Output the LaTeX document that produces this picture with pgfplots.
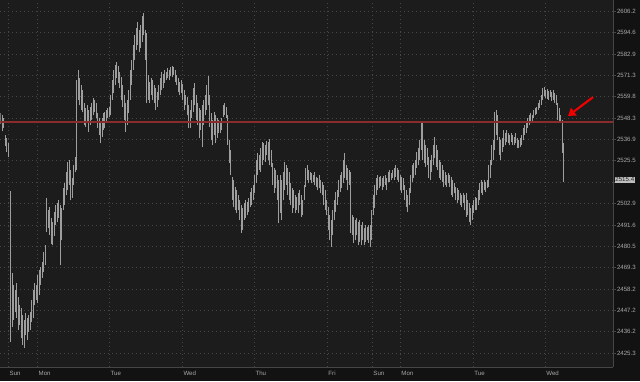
\documentclass[border=0pt]{standalone}
\usepackage{pgfplots}
\pgfplotsset{compat=1.18}
\usepackage{pgfplotstable}
\usepackage{fontspec}
\setmainfont{Liberation Sans}
\usetikzlibrary{arrows.meta}
\definecolor{outbg}{HTML}{121212}
\definecolor{plotbg}{HTML}{1C1C1C}
\definecolor{gridc}{HTML}{464646}
\definecolor{barc}{HTML}{9E9E9E}
\definecolor{redline}{HTML}{882C2C}
\definecolor{arrowred}{HTML}{F00000}
\definecolor{labc}{HTML}{A8A8A8}
\pgfplotstableread{
x lo hi
0 2545.0 2550.9
1.5 2541.2 2549.8
3 2542.9 2548.2
4.5 2533.2 2539.1
6 2530.0 2537.5
7.5 2527.4 2534.8
10 2430.9 2509.4
11.5 2438.6 2466.4
13 2442.2 2460.2
14.5 2446.3 2457.6
16 2443.2 2461.3
17.5 2437.0 2454.0
19 2439.6 2449.9
20.5 2432.9 2448.3
22 2429.4 2444.7
23.5 2427.8 2442.2
25 2434.5 2445.8
26.5 2431.9 2443.2
28 2436.0 2444.7
29.5 2437.0 2446.3
31 2441.1 2452.5
32.5 2443.2 2457.6
34 2449.9 2461.3
35.5 2452.5 2460.2
37 2450.9 2465.4
38.5 2455.1 2468.0
40 2460.2 2469.6
41.5 2463.9 2472.2
43 2467.0 2477.4
44.5 2470.6 2481.0
46 2487.8 2505.7
47.5 2489.9 2499.4
49 2486.2 2500.9
50.5 2481.5 2495.1
52 2481.0 2493.0
53.5 2485.7 2498.3
55 2491.5 2502.0
56.5 2493.0 2503.0
58 2495.1 2504.6
59.5 2470.6 2502.0
61 2483.6 2500.4
62.5 2499.4 2511.0
64 2502.0 2513.6
65.5 2507.3 2519.4
67 2509.9 2524.7
68.5 2512.5 2525.8
70 2504.6 2520.5
71.5 2505.7 2516.2
73 2512.5 2523.1
74.5 2519.4 2527.4
76 2520.5 2568.7
77.5 2557.9 2574.1
79 2555.2 2569.7
80.5 2552.5 2566.0
82 2551.4 2563.3
83.5 2544.5 2556.3
85 2543.4 2553.6
86.5 2546.1 2555.2
88 2540.7 2552.5
89.5 2544.5 2554.1
91 2547.1 2556.3
92.5 2549.8 2558.9
94 2551.4 2557.9
95.5 2548.2 2556.3
97 2542.9 2550.9
98.5 2539.1 2548.2
100 2534.8 2546.1
101.5 2538.0 2548.2
103 2541.8 2550.9
104.5 2542.9 2551.4
106 2546.1 2552.5
107.5 2548.2 2553.6
109 2548.7 2554.1
110.5 2549.8 2560.6
112 2557.9 2568.7
113.5 2561.6 2574.1
115 2566.0 2576.8
116.5 2569.7 2578.4
118 2567.0 2576.2
119.5 2564.3 2573.0
121 2557.9 2570.3
122.5 2554.1 2566.0
124 2547.1 2560.6
125.5 2540.7 2556.3
127 2544.5 2557.9
128.5 2550.9 2563.3
130 2557.9 2574.1
131.5 2566.0 2579.5
133 2574.1 2587.6
134.5 2579.5 2593.1
136 2584.9 2596.9
137.5 2587.6 2600.2
139 2583.8 2595.8
140.5 2586.0 2598.5
142 2589.3 2603.5
143.5 2593.1 2605.1
145 2579.5 2595.8
146.5 2556.3 2594.2
148 2557.9 2571.4
149.5 2556.3 2567.6
151 2560.6 2569.7
152.5 2557.9 2568.7
154 2556.3 2566.0
155.5 2552.5 2564.3
157 2554.1 2562.2
158.5 2557.9 2566.0
160 2560.6 2569.7
161.5 2563.3 2573.0
163 2564.3 2571.9
164.5 2567.0 2574.1
166 2568.7 2573.0
167.5 2569.7 2575.1
169 2568.7 2574.1
170.5 2570.8 2575.7
172 2570.3 2576.2
173.5 2571.4 2575.7
175 2567.6 2574.1
176.5 2566.0 2571.4
178 2562.2 2569.7
179.5 2560.6 2567.6
181 2561.6 2568.7
182.5 2557.9 2566.5
184 2552.5 2563.3
185.5 2555.2 2560.6
187 2549.8 2559.5
188.5 2542.9 2555.2
190 2542.9 2552.5
191.5 2548.2 2557.9
193 2551.4 2564.3
194.5 2555.2 2567.0
196 2547.1 2560.6
197.5 2544.5 2556.3
199 2537.5 2553.6
200.5 2541.8 2552.5
202 2532.7 2555.2
203.5 2544.5 2557.9
205 2549.8 2560.6
206.5 2552.5 2566.0
208 2555.2 2570.8
209.5 2543.4 2560.6
211 2536.4 2550.9
212.5 2533.8 2547.1
214 2539.1 2551.4
215.5 2534.8 2549.8
217 2537.5 2548.2
218.5 2540.2 2547.1
220 2540.2 2546.1
221.5 2541.8 2548.2
223 2548.7 2555.2
224.5 2549.8 2556.3
226 2548.2 2554.1
227.5 2533.8 2549.8
229 2524.2 2536.4
230.5 2517.8 2531.1
232 2504.6 2516.8
233.5 2500.9 2515.2
235 2499.4 2511.5
236.5 2497.8 2509.9
238 2499.4 2507.3
239.5 2494.1 2504.6
241 2487.3 2502.0
242.5 2488.9 2500.4
244 2494.1 2503.0
245.5 2495.1 2504.6
247 2496.7 2503.6
248.5 2498.3 2505.7
250 2500.9 2508.8
251.5 2502.0 2511.0
253 2504.6 2512.5
254.5 2508.3 2517.8
256 2513.6 2525.8
257.5 2517.8 2529.5
259 2520.5 2528.4
260.5 2519.4 2532.2
262 2523.1 2535.4
263.5 2525.8 2534.8
265 2524.7 2533.8
266.5 2528.4 2535.9
268 2525.8 2535.4
269.5 2523.1 2537.0
271 2522.1 2531.1
272.5 2512.5 2524.2
274 2508.3 2521.5
275.5 2511.0 2520.5
277 2504.6 2517.8
278.5 2492.5 2515.2
280 2497.8 2517.8
281.5 2494.1 2515.2
283 2504.6 2519.4
284.5 2509.9 2524.7
286 2512.5 2523.1
287.5 2507.3 2521.5
289 2504.6 2519.4
290.5 2502.0 2513.6
292 2497.8 2511.0
293.5 2500.4 2509.9
295 2497.8 2507.3
296.5 2499.4 2506.2
298 2497.8 2508.3
299.5 2502.0 2509.9
301 2495.7 2507.3
302.5 2496.7 2504.6
304 2504.6 2512.5
305.5 2511.5 2521.5
307 2515.2 2523.1
308.5 2513.6 2520.5
310 2515.2 2519.4
311.5 2513.6 2518.9
313 2514.1 2517.8
314.5 2512.5 2519.4
316 2511.5 2516.8
317.5 2509.9 2516.2
319 2511.0 2517.8
320.5 2508.3 2515.2
322 2507.3 2514.1
323.5 2502.0 2512.5
325 2499.4 2509.9
326.5 2496.7 2504.6
328 2488.9 2500.9
329.5 2483.6 2496.7
331 2480.0 2494.1
332.5 2486.2 2499.4
334 2494.1 2504.6
335.5 2498.3 2508.8
337 2502.0 2509.9
338.5 2506.2 2515.2
340 2508.8 2517.8
341.5 2511.0 2519.4
343 2513.6 2525.8
344.5 2516.2 2529.5
346 2515.2 2523.1
347.5 2509.9 2521.5
349 2512.5 2520.5
350.5 2487.3 2519.4
352 2486.2 2496.7
353.5 2482.1 2495.7
355 2483.6 2494.1
356.5 2486.2 2495.1
358 2481.0 2493.0
359.5 2482.6 2494.1
361 2481.0 2491.5
362.5 2483.6 2493.0
364 2481.0 2489.9
365.5 2482.6 2491.5
367 2483.6 2490.4
368.5 2482.1 2491.5
370 2480.0 2491.5
371.5 2483.6 2499.4
373 2496.7 2507.3
374.5 2500.4 2512.5
376 2507.3 2516.2
377.5 2509.9 2517.8
379 2511.0 2516.8
380.5 2512.0 2517.3
382 2509.9 2516.2
383.5 2511.5 2517.3
385 2512.5 2517.8
386.5 2509.9 2516.2
388 2514.1 2519.4
389.5 2514.1 2520.5
391 2515.2 2518.9
392.5 2516.2 2520.5
394 2515.2 2521.5
395.5 2516.8 2523.1
397 2515.2 2521.5
398.5 2514.1 2520.5
400 2509.9 2517.8
401.5 2508.3 2516.8
403 2509.9 2516.2
404.5 2504.6 2512.5
406 2500.9 2509.9
407.5 2498.3 2507.3
409 2502.0 2511.0
410.5 2508.3 2517.8
412 2514.1 2523.1
413.5 2516.2 2524.2
415 2517.8 2525.8
416.5 2521.5 2530.0
418 2523.1 2532.2
419.5 2525.8 2536.4
421 2531.1 2546.1
422.5 2525.8 2545.5
424 2524.2 2536.4
425.5 2522.1 2533.8
427 2523.1 2532.2
428.5 2516.2 2527.4
430 2515.2 2525.8
431.5 2519.4 2528.4
433 2523.1 2533.8
434.5 2526.8 2538.0
436 2522.1 2533.8
437.5 2520.5 2531.1
439 2516.2 2525.8
440.5 2515.2 2524.7
442 2514.1 2523.1
443.5 2511.5 2520.5
445 2512.5 2519.4
446.5 2511.5 2517.8
448 2513.6 2518.9
449.5 2511.5 2517.8
451 2507.3 2516.8
452.5 2506.2 2515.2
454 2508.3 2513.6
455.5 2504.6 2511.5
457 2503.0 2511.0
458.5 2504.6 2509.9
460 2502.0 2508.3
461.5 2500.9 2507.3
463 2503.0 2508.3
464.5 2499.4 2507.3
466 2495.7 2508.3
467.5 2496.7 2504.6
469 2493.0 2503.0
470.5 2491.5 2500.4
472 2494.1 2502.0
473.5 2497.8 2504.6
475 2499.4 2506.2
476.5 2499.4 2505.7
478 2502.0 2509.9
479.5 2504.6 2513.6
481 2508.3 2515.2
482.5 2507.3 2514.1
484 2509.9 2515.2
485.5 2508.8 2514.1
487 2511.0 2515.2
488.5 2511.5 2523.1
490 2516.2 2525.8
491.5 2523.1 2533.8
493 2525.8 2536.4
494.5 2531.1 2551.4
496 2539.1 2552.5
497.5 2536.4 2549.8
499 2528.4 2538.0
500.5 2525.8 2536.4
502 2530.0 2537.5
503.5 2532.7 2541.8
505 2533.8 2540.2
506.5 2535.4 2541.8
508 2534.8 2540.2
509.5 2533.8 2539.1
511 2535.4 2540.2
512.5 2533.8 2539.1
514 2533.8 2538.0
515.5 2534.8 2540.2
517 2532.2 2537.5
518.5 2532.2 2536.4
520 2532.7 2537.5
521.5 2533.8 2539.1
523 2536.4 2542.9
524.5 2539.1 2544.5
526 2540.2 2545.5
527.5 2542.9 2548.2
529 2544.5 2549.8
530.5 2546.1 2550.9
532 2545.5 2549.8
533.5 2548.2 2552.5
535 2549.8 2553.6
536.5 2550.4 2554.1
538 2552.5 2556.3
539.5 2553.6 2557.9
541 2555.2 2560.6
542.5 2557.9 2564.3
544 2560.0 2564.9
545.5 2558.9 2563.3
547 2558.4 2563.8
548.5 2557.9 2562.7
550 2559.5 2563.3
551.5 2557.3 2562.2
553 2557.9 2563.3
554.5 2556.3 2561.6
556 2555.2 2560.6
557.5 2547.1 2556.3
559 2546.1 2553.6
560.5 2546.1 2549.8
562 2529.5 2547.1
563.5 2514.1 2534.8
}\bars
\begin{document}
\begin{tikzpicture}
\fill[outbg] (0,0) rectangle (480pt,285.75pt);
\begin{axis}[
  at={(0pt,10.5pt)}, anchor=south west,
  scale only axis, width=459.75pt, height=275.25pt,
  y coord trafo/.code={\pgfmathparse{1000*ln(#1/2400)}},
  y coord inv trafo/.code={\pgfmathparse{2400*exp(#1/1000)}},
  xmin=0, xmax=613, ymin=2418.2, ymax=2612.2,
  axis background/.style={fill=plotbg},
  axis x line*=bottom, axis y line*=right,
  axis line style={draw=gridc, line width=0.5pt, -},
  xtick={8,37,109,182,254,327,372,400,473,545},
  xticklabels={Sun,Mon,Tue,Wed,Thu,Fri,Sun,Mon,Tue,Wed},
  xticklabel style={anchor=west, yshift=-2.4pt, xshift=0.3pt, inner sep=0.5pt, font=\fontsize{4.6pt}{5pt}\selectfont, text=labc},
  x tick style={draw=none},
  ytick={2425.3,2436.2,2447.2,2458.2,2469.3,2480.5,2491.6,2502.9,2514.1,2525.5,2536.9,2548.3,2559.8,2571.3,2582.9,2594.6,2606.2},
  yticklabels={2425.3,2436.2,2447.2,2458.2,2469.3,2480.5,2491.6,2502.9,,2525.5,2536.9,2548.3,2559.8,2571.3,2582.9,2594.6,2606.2},
  yticklabel pos=right,
  yticklabel style={font=\fontsize{4.6pt}{5pt}\selectfont, text=labc, inner sep=0.8pt},
  y tick style={draw=gridc, line width=0.5pt},
  major tick length=2pt, tick align=outside,
  grid=major,
  major grid style={draw=gridc, line width=0.5pt, dash pattern=on 0.6pt off 2.4pt},
  clip=true,
]
\addplot[draw=none, mark=none, forget plot,
  error bars/.cd, y dir=plus, y explicit, error mark=none,
  error bar style={draw=barc, line width=0.42pt, solid}]
  table[x=x, y=lo, y error expr={1000*ln(\thisrow{hi}/\thisrow{lo})}] {\bars};
\draw[draw=redline, line width=1.2pt] (axis cs:0,2546.3) -- (axis cs:613,2546.3);
\coordinate (lastp) at (axis cs:613,2515.4);
\coordinate (arrA) at (axis cs:593,2559.5);
\coordinate (arrB) at (axis cs:568,2549.4);
\end{axis}
\draw[-{Triangle[length=5.5pt,width=7pt]}, line width=1.6pt, draw=arrowred, fill=arrowred] (arrA) -- (arrB);
\node[anchor=west, fill={rgb,255:red,190;green,190;blue,190}, text={rgb,255:red,40;green,40;blue,40}, inner sep=0.6pt, font=\fontsize{4.6pt}{5pt}\selectfont, xshift=1pt] at (lastp) {2515.4};
\end{tikzpicture}
\end{document}
